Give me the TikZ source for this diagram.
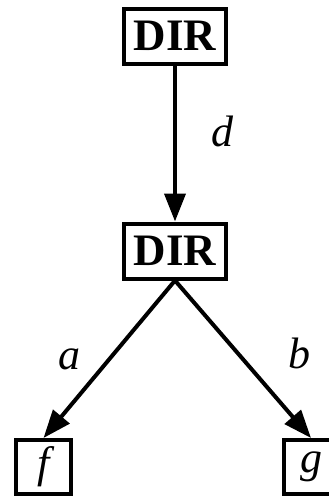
\documentclass[tikz,border=0pt]{standalone}
\usepackage{fontspec}
\setmainfont{Liberation Serif}
\usetikzlibrary{arrows.meta}
\tikzset{
  link/.style={-{Triangle[length=28pt, width=21pt]}, line width=4pt, draw=black},
  dirbox/.style={draw=black, line width=4pt, rectangle, minimum width=102pt, minimum height=55pt, inner sep=0pt, font=\fontsize{45}{50}\selectfont\bfseries},
  leaf/.style={draw=black, line width=4pt, rectangle, minimum width=55pt, minimum height=54pt, inner sep=0pt, font=\fontsize{44}{50}\selectfont\itshape},
  lbl/.style={font=\fontsize{44}{50}\selectfont\itshape, inner sep=0pt}
}

\begin{document}
\begin{tikzpicture}[x=1pt, y=-1pt]
  \useasboundingbox (0,0) rectangle (329,498);
  \node[dirbox] (top) at (175,36) {DIR};
  \node[dirbox] (mid) at (175,251) {DIR};
  \node[leaf] (f) at (43.5,467) {f};
  \node[leaf] (g) at (311,467) {g};

  \draw[link] (top.south) -- node[lbl, pos=0.42, xshift=47pt] {d} (mid.north);
  \draw[link] (mid.south) -- node[lbl, midway, xshift=-40pt] {a} (f.north);
  \draw[link] (mid.south) -- node[lbl, midway, xshift=56pt, yshift=6pt] {b} (g.north);
\end{tikzpicture}
\end{document}
